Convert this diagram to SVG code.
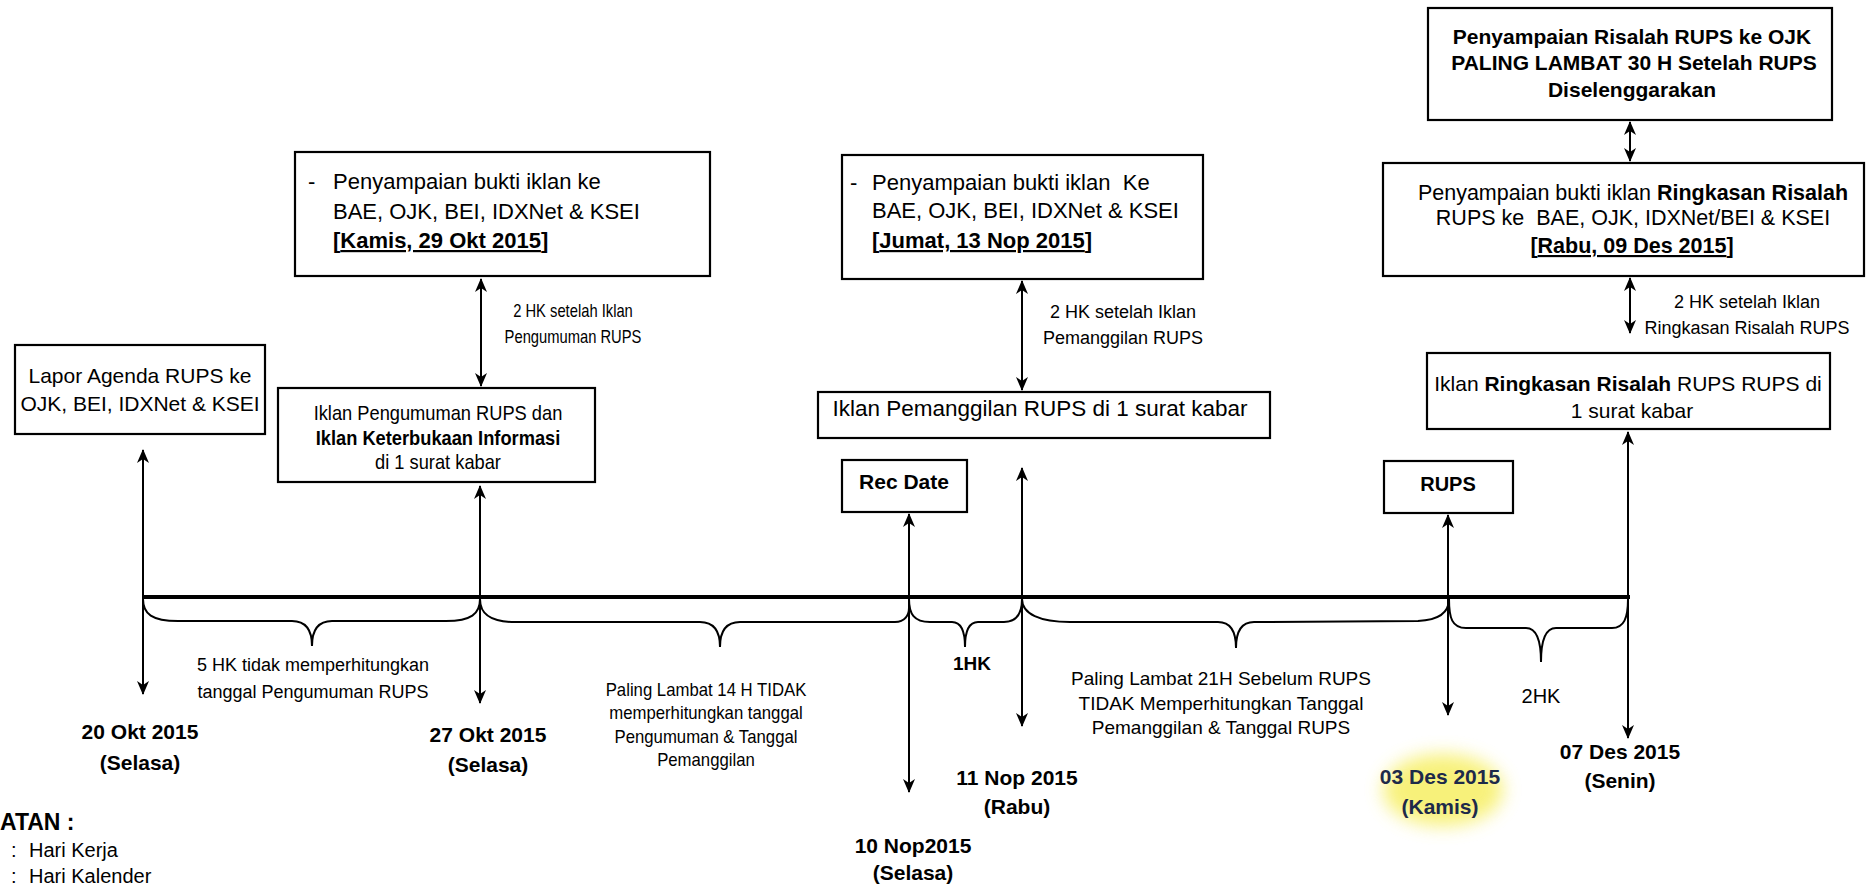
<svg xmlns="http://www.w3.org/2000/svg" width="1866" height="884" viewBox="0 0 1866 884">
<defs>
<marker id="ah" viewBox="0 0 14 12" refX="13" refY="6" markerWidth="14" markerHeight="12" markerUnits="userSpaceOnUse" orient="auto-start-reverse"><path d="M0,0 L14,6 L0,12 L4,6 Z" fill="#000"/></marker>
<filter id="glow" x="-50%" y="-50%" width="200%" height="200%"><feGaussianBlur stdDeviation="9"/></filter>
</defs>
<style>
.box{fill:#fff;stroke:#000;stroke-width:2.2}
text{font-family:"Liberation Sans",Arial,sans-serif;fill:#000;font-size:22px}
.c{text-anchor:middle}
.bd{font-weight:bold}
.f23{font-size:23px}
.f21{font-size:21px}
.f20{font-size:20px}
.f19{font-size:19px}
.f18{font-size:18px}
.u{text-decoration:underline}
.arr{stroke:#000;stroke-width:2;fill:none;marker-start:url(#ah);marker-end:url(#ah)}
.brace{stroke:#000;stroke-width:2;fill:none}
.tl{stroke:#000;stroke-width:4}
.hl{fill:#1d2a4a}
</style>
<rect width="1866" height="884" fill="#fff"/>

<g id="connectors">
<line class="tl" x1="143" y1="597" x2="1630" y2="597"/>
<line class="arr" x1="143" y1="450" x2="143" y2="694"/>
<line class="arr" x1="480" y1="486" x2="480" y2="703"/>
<line class="arr" x1="909" y1="514" x2="909" y2="792"/>
<line class="arr" x1="1022" y1="468" x2="1022" y2="726"/>
<line class="arr" x1="1448" y1="515" x2="1448" y2="715"/>
<line class="arr" x1="1628" y1="432" x2="1628" y2="738"/>
<line class="arr" x1="481" y1="279" x2="481" y2="386"/>
<line class="arr" x1="1022" y1="281" x2="1022" y2="390"/>
<line class="arr" x1="1630" y1="122" x2="1630" y2="161"/>
<line class="arr" x1="1630" y1="278" x2="1630" y2="333"/>
<path class="brace" d="M143,599 C143,614 152,621 178,621 L292,621 C306,621 312,630 312,646 C312,630 318,621 332,621 L446,621 C471,621 480,614 480,599"/>
<path class="brace" d="M480,599 C480,614 490,622 515,622 L700,622 C714,622 720,632 720,647 C720,632 726,622 740,622 L895,622 C905,622 909,615 909,608"/>
<path class="brace" d="M909,599 C909,614 914,622 930,622 L952,622 C961,622 965,632 965,647 C965,632 969,622 978,622 L1004,622 C1016,622 1022,614 1022,599"/>
<path class="brace" d="M1022,599 C1022,614 1040,622 1070,622 L1218,622 C1231,622 1236,632 1236,648 C1236,632 1241,622 1254,622 L1418,621 C1440,620 1449,612 1449,599"/>
<path class="brace" d="M1449,599 C1449,618 1452,628 1466,628 L1526,628 C1536,628 1541,640 1541,662 C1541,640 1546,628 1556,628 L1612,628 C1624,628 1628,618 1628,599"/>
</g>

<g id="lapor">
<rect class="box" x="15" y="345" width="250" height="89"/>
<text class="c f21" x="140" y="383">Lapor Agenda RUPS ke</text>
<text class="c f21" x="140" y="411">OJK, BEI, IDXNet &amp; KSEI</text>
</g>

<g id="iklan-pengumuman">
<rect class="box" x="278" y="388" width="317" height="94"/>
<g transform="translate(438,0) scale(0.87,1)">
<text class="c f21" x="0" y="420">Iklan Pengumuman RUPS dan</text>
<text class="c bd f21" x="0" y="445">Iklan Keterbukaan Informasi</text>
<text class="c f21" x="0" y="469">di 1 surat kabar</text>
</g>
</g>

<g id="bukti-iklan-1">
<rect class="box" x="295" y="152" width="415" height="124"/>
<text x="308" y="189">-</text>
<text x="333" y="189">Penyampaian bukti iklan ke</text>
<text x="333" y="219">BAE, OJK, BEI, IDXNet &amp; KSEI</text>
<text class="bd" x="333" y="248">[<tspan class="u">Kamis, 29 Okt 2015</tspan>]</text>
</g>

<g id="bukti-iklan-2">
<rect class="box" x="842" y="155" width="361" height="124"/>
<text x="850" y="190">-</text>
<text x="872" y="190">Penyampaian bukti iklan&#160; Ke</text>
<text x="872" y="218">BAE, OJK, BEI, IDXNet &amp; KSEI</text>
<text class="bd" x="872" y="248">[<tspan class="u">Jumat, 13 Nop 2015</tspan>]</text>
</g>

<g id="iklan-pemanggilan">
<rect class="box" x="818" y="392" width="452" height="46"/>
<text class="c" x="1040" y="416" style="font-size:22.5px">Iklan Pemanggilan RUPS di 1 surat kabar</text>
</g>

<g id="rec-date">
<rect class="box" x="842" y="460" width="125" height="52"/>
<text class="c bd f21" x="904" y="489">Rec Date</text>
</g>

<g id="rups">
<rect class="box" x="1384" y="461" width="129" height="52"/>
<text class="c bd f20" x="1448" y="491">RUPS</text>
</g>

<g id="risalah-ojk">
<rect class="box" x="1428" y="8" width="404" height="112"/>
<text class="c bd f21" x="1632" y="44">Penyampaian Risalah RUPS ke OJK</text>
<text class="c bd f21" x="1634" y="70">PALING LAMBAT 30 H Setelah RUPS</text>
<text class="c bd f21" x="1632" y="97">Diselenggarakan</text>
</g>

<g id="bukti-ringkasan">
<rect class="box" x="1383" y="163" width="481" height="113"/>
<text class="c" x="1633" y="200" style="font-size:21.5px">Penyampaian bukti iklan <tspan class="bd">Ringkasan Risalah</tspan></text>
<text class="c" x="1633" y="225" style="font-size:21.5px">RUPS ke&#160; BAE, OJK, IDXNet/BEI &amp; KSEI</text>
<text class="c bd" x="1632" y="253" style="font-size:21.5px">[<tspan class="u">Rabu, 09 Des 2015</tspan>]</text>
</g>

<g id="iklan-ringkasan">
<rect class="box" x="1427" y="353" width="403" height="76"/>
<text class="c f21" x="1628" y="391">Iklan <tspan class="bd">Ringkasan Risalah</tspan> RUPS RUPS di</text>
<text class="c f21" x="1632" y="418">1 surat kabar</text>
</g>

<g id="labels">
<g transform="translate(573,0) scale(0.82,1)">
<text class="c f18" x="0" y="317">2 HK setelah Iklan</text>
<text class="c f18" x="0" y="343">Pengumuman RUPS</text>
</g>
<text class="c f18" x="1123" y="318">2 HK setelah Iklan</text>
<text class="c f18" x="1123" y="344">Pemanggilan RUPS</text>
<text class="c f18" x="1747" y="308">2 HK setelah Iklan</text>
<text class="c f18" x="1747" y="334">Ringkasan Risalah RUPS</text>

<text class="c f18" x="313" y="671">5 HK tidak memperhitungkan</text>
<text class="c f18" x="313" y="698">tanggal Pengumuman RUPS</text>

<g transform="translate(706,0) scale(0.93,1)">
<text class="c f18" x="0" y="696">Paling Lambat 14 H TIDAK</text>
<text class="c f18" x="0" y="719">memperhitungkan tanggal</text>
<text class="c f18" x="0" y="743">Pengumuman &amp; Tanggal</text>
<text class="c f18" x="0" y="766">Pemanggilan</text>
</g>

<text class="c bd f19" x="972" y="670">1HK</text>

<text class="c f19" x="1221" y="685">Paling Lambat 21H Sebelum RUPS</text>
<text class="c f19" x="1221" y="710">TIDAK Memperhitungkan Tanggal</text>
<text class="c f19" x="1221" y="734">Pemanggilan &amp; Tanggal RUPS</text>

<text class="c f20" x="1541" y="703">2HK</text>

<text class="c bd f21" x="140" y="739">20 Okt 2015</text>
<text class="c bd f21" x="140" y="770">(Selasa)</text>
<text class="c bd f21" x="488" y="742">27 Okt 2015</text>
<text class="c bd f21" x="488" y="772">(Selasa)</text>
<text class="c bd f21" x="913" y="853">10 Nop2015</text>
<text class="c bd f21" x="913" y="880">(Selasa)</text>
<text class="c bd f21" x="1017" y="785">11 Nop 2015</text>
<text class="c bd f21" x="1017" y="814">(Rabu)</text>
<ellipse cx="1443" cy="790" rx="60" ry="36" fill="#f6ee5a" filter="url(#glow)" opacity="0.8"/>
<text class="c bd f21 hl" x="1440" y="784">03 Des 2015</text>
<text class="c bd f21 hl" x="1440" y="814">(Kamis)</text>
<text class="c bd f21" x="1620" y="759">07 Des 2015</text>
<text class="c bd f21" x="1620" y="788">(Senin)</text>

<text class="bd f23" x="0" y="830">ATAN :</text>
<text class="f20" x="11" y="857">:</text>
<text class="f20" x="29" y="857">Hari Kerja</text>
<text class="f20" x="11" y="883">:</text>
<text class="f20" x="29" y="883">Hari Kalender</text>
</g>
</svg>
